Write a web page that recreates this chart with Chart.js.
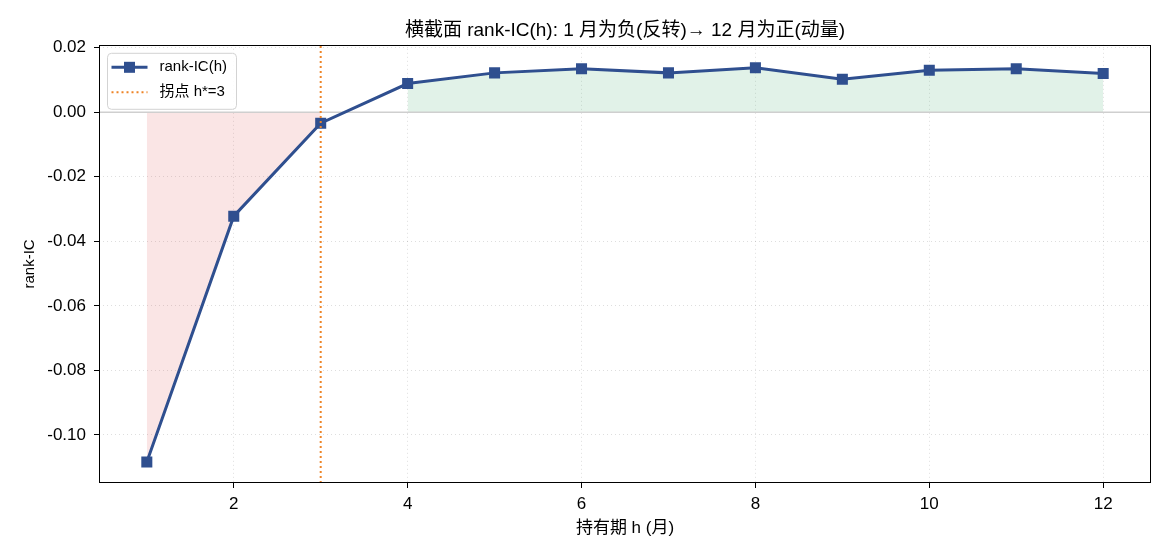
<!DOCTYPE html>
<html>
<head>
<meta charset="utf-8">
<script src="https://cdn.jsdelivr.net/npm/chart.js@4.4.0/dist/chart.umd.min.js"></script>
<style>
  html, body { margin: 0; padding: 0; background: #fff; }
</style>
</head>
<body>
<canvas id="myChart" width="1170" height="559"></canvas>
<script>
var FONT = '"Liberation Sans", Arial, "Noto Sans CJK SC", sans-serif';

// holding period h (months) and the cross-sectional rank-IC
var horizons = [1, 2, 3, 4, 5, 6, 7, 8, 9, 10, 11, 12];
var rankIC = [-0.1084, -0.0322, -0.0034, 0.0089, 0.0122, 0.0135, 0.0122, 0.0138, 0.0102, 0.0130, 0.0135, 0.0120];
var turnPoint = 3;
var xTicks = [2, 4, 6, 8, 10, 12];
var yTicks = [-0.10, -0.08, -0.06, -0.04, -0.02, 0.00, 0.02];
var xRange = [0.45, 12.55];
var yRange = [-0.1149, 0.0209];

var lineColor = '#2f4f8f';
var turnColor = '#ee8427';

var mainPts = horizons.map((h, i) => ({ x: h, y: rankIC[i] }));
var negPts = mainPts.filter(p => p.y < 0);
var posPts = mainPts.filter(p => p.y > 0);

// box round the axes + legend drawn inside the plot
var framePlugin = {
    id: 'frame',
    afterDraw(chart) {
        const ctx = chart.ctx, a = chart.chartArea;
        ctx.save();
        ctx.strokeStyle = '#000';
        ctx.lineWidth = 1;
        ctx.strokeRect(Math.round(a.left) + 0.5, Math.round(a.top) + 0.5,
            Math.round(a.right - a.left) - 1, Math.round(a.bottom - a.top) - 1);

        // legend
        const bx = a.left + 8.5, by = a.top + 8.5, bw = 129, bh = 56;
        ctx.beginPath();
        ctx.roundRect(bx, by, bw, bh, 4);
        ctx.fillStyle = 'rgba(255,255,255,0.85)';
        ctx.fill();
        ctx.strokeStyle = '#d3d3d3';
        ctx.stroke();

        const ds = chart.data.datasets;
        let y1 = by + 14, y2 = by + 39;
        ctx.strokeStyle = ds[0].borderColor;
        ctx.lineWidth = 3;
        ctx.beginPath(); ctx.moveTo(bx + 4, y1); ctx.lineTo(bx + 40, y1); ctx.stroke();
        ctx.fillStyle = ds[0].borderColor;
        ctx.fillRect(bx + 22 - 5.5, y1 - 5.5, 11, 11);

        ctx.strokeStyle = ds[1].borderColor;
        ctx.lineWidth = 2;
        ctx.setLineDash([2, 3]);
        ctx.beginPath(); ctx.moveTo(bx + 4, y2); ctx.lineTo(bx + 40, y2); ctx.stroke();
        ctx.setLineDash([]);

        ctx.fillStyle = '#000';
        ctx.font = '15px ' + FONT;
        ctx.textBaseline = 'middle';
        ctx.fillText(ds[0].label, bx + 52, y1);
        ctx.fillText(ds[1].label, bx + 52, y2);
        ctx.restore();
    }
};

let ctx = document.getElementById('myChart').getContext('2d');
let myChart = new Chart(ctx, {
    type: 'line',
    data: {
        datasets: [
            {
                label: 'rank-IC(h)',
                data: mainPts,
                borderColor: lineColor,
                backgroundColor: lineColor,
                borderWidth: 3,
                pointStyle: 'rect',
                pointRadius: 7.8,
                pointHoverRadius: 7.8,
                pointBorderWidth: 0,
                fill: false,
                order: 1
            },
            {
                label: '拐点 h*=' + turnPoint,
                data: [{ x: turnPoint, y: yRange[0] }, { x: turnPoint, y: yRange[1] }],
                borderColor: turnColor,
                borderWidth: 2,
                borderDash: [2, 3],
                pointRadius: 0,
                fill: false,
                order: 0
            },
            {
                label: 'zero',
                data: [{ x: xRange[0], y: 0 }, { x: xRange[1], y: 0 }],
                borderColor: '#cfcfcf',
                borderWidth: 1.6,
                pointRadius: 0,
                fill: false,
                order: 2
            },
            {
                label: 'neg',
                data: negPts,
                borderColor: 'rgba(0,0,0,0)',
                borderWidth: 0,
                backgroundColor: 'rgba(220,80,80,0.15)',
                pointRadius: 0,
                fill: 'origin',
                order: 3
            },
            {
                label: 'pos',
                data: posPts,
                borderColor: 'rgba(0,0,0,0)',
                borderWidth: 0,
                backgroundColor: 'rgba(46,160,90,0.14)',
                pointRadius: 0,
                fill: 'origin',
                order: 3
            }
        ]
    },
    options: {
        responsive: false,
        devicePixelRatio: 1,
        animation: false,
        layout: { padding: { left: 0, right: 19, top: 0, bottom: 0 } },
        plugins: {
            legend: { display: false },
            tooltip: { enabled: false },
            title: {
                display: true,
                fullSize: false,   // centre over the plot area, like the original
                text: '横截面 rank-IC(h): 1 月为负(反转)→ 12 月为正(动量)',
                color: '#000',
                font: { family: FONT, size: 19, weight: 'normal' },
                padding: { top: 19, bottom: 3 }
            }
        },
        scales: {
            x: {
                type: 'linear',
                min: xRange[0],
                max: xRange[1],
                afterBuildTicks: s => { s.ticks = xTicks.map(v => ({ value: v })); },
                afterFit: s => { s.height = 76; },
                ticks: {
                    color: '#000',
                    font: { family: FONT, size: 17 },
                    padding: 6,
                    maxRotation: 0,
                    callback: v => String(v)
                },
                grid: {
                    color: 'rgba(0,0,0,0.13)',
                    lineWidth: 1,
                    tickColor: '#000',
                    tickLength: 5,
                    tickWidth: 1
                },
                border: { display: false, dash: [1, 3] },
                title: {
                    display: true,
                    text: '持有期 h (月)',
                    color: '#000',
                    font: { family: FONT, size: 17 },
                    padding: { top: 0, bottom: 20 }
                }
            },
            y: {
                type: 'linear',
                min: yRange[0],
                max: yRange[1],
                afterBuildTicks: s => { s.ticks = yTicks.map(v => ({ value: v })); },
                afterFit: s => { s.width = 99; },
                ticks: {
                    color: '#000',
                    font: { family: FONT, size: 17 },
                    padding: 8,
                    callback: v => v.toFixed(2)
                },
                grid: {
                    color: 'rgba(0,0,0,0.13)',
                    lineWidth: 1,
                    tickColor: '#000',
                    tickLength: 5,
                    tickWidth: 1
                },
                border: { display: false, dash: [1, 3] },
                title: {
                    display: true,
                    text: 'rank-IC',
                    color: '#000',
                    font: { family: FONT, size: 15 },
                    padding: { top: 21, bottom: 0 }
                }
            }
        }
    },
    plugins: [framePlugin]
});
</script>
</body>
</html>
